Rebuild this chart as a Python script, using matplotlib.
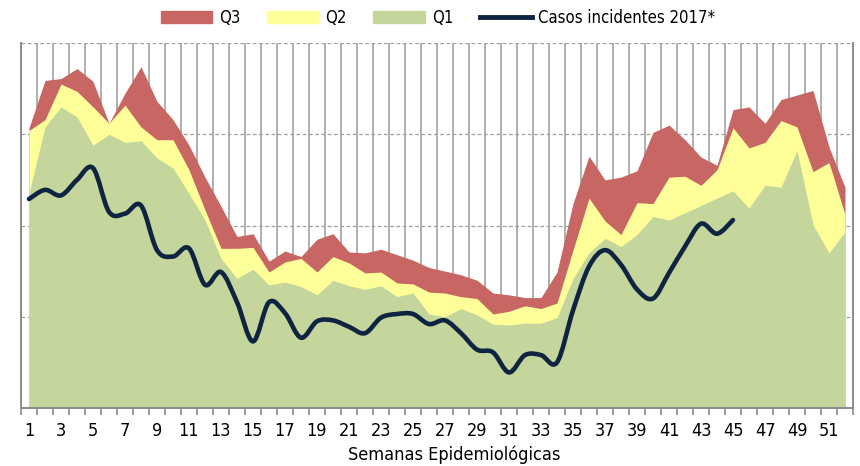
import numpy as np
import matplotlib.pyplot as plt
from matplotlib.path import Path
from matplotlib.patches import PathPatch, Patch
from matplotlib.lines import Line2D

plt.rcParams['font.family'] = ['DejaVu Sans']
plt.rcParams['font.stretch'] = 'condensed'

weeks = np.arange(1, 53)

# umbrales del canal endemico (valores acumulados, escala en cientos)
q1 = [2.35, 3.08, 3.30, 3.19, 2.88, 3.00, 2.91, 2.93, 2.74, 2.63,
      2.35, 2.06, 1.64, 1.42, 1.52, 1.35, 1.38, 1.33, 1.24, 1.40,
      1.34, 1.30, 1.34, 1.22, 1.26, 1.03, 1.00, 1.09, 1.02, 0.92,
      0.91, 0.93, 0.93, 0.99, 1.42, 1.70, 1.86, 1.77, 1.90, 2.10,
      2.06, 2.14, 2.22, 2.30, 2.38, 2.19, 2.44, 2.42, 2.82, 2.01,
      1.70, 1.93]
q2 = [3.04, 3.16, 3.55, 3.47, 3.30, 3.12, 3.32, 3.08, 2.94, 2.94,
      2.61, 2.17, 1.75, 1.75, 1.76, 1.49, 1.60, 1.64, 1.49, 1.66,
      1.59, 1.48, 1.49, 1.37, 1.36, 1.27, 1.26, 1.22, 1.20, 1.03,
      1.06, 1.12, 1.09, 1.15, 1.73, 2.30, 2.05, 1.90, 2.25, 2.24,
      2.53, 2.54, 2.44, 2.61, 3.07, 2.85, 2.91, 3.15, 3.08, 2.59,
      2.69, 2.12]
q3 = [3.07, 3.59, 3.61, 3.72, 3.58, 3.12, 3.45, 3.74, 3.36, 3.16,
      2.88, 2.53, 2.21, 1.88, 1.91, 1.61, 1.72, 1.66, 1.85, 1.91,
      1.71, 1.70, 1.74, 1.68, 1.62, 1.54, 1.50, 1.46, 1.40, 1.26,
      1.24, 1.21, 1.21, 1.49, 2.24, 2.76, 2.50, 2.53, 2.60, 3.02,
      3.10, 2.94, 2.75, 2.66, 3.27, 3.30, 3.12, 3.38, 3.43, 3.48,
      2.86, 2.42]
casos = [2.29, 2.39, 2.33, 2.50, 2.63, 2.15, 2.13, 2.22, 1.73, 1.66,
         1.75, 1.35, 1.49, 1.16, 0.73, 1.16, 1.04, 0.77, 0.95, 0.96,
         0.89, 0.82, 0.99, 1.03, 1.03, 0.92, 0.96, 0.82, 0.64, 0.61,
         0.39, 0.58, 0.58, 0.50, 1.07, 1.55, 1.73, 1.57, 1.30, 1.20,
         1.48, 1.77, 2.02, 1.91, 2.06]

c_q3 = '#c86663'
c_q2 = '#ffff99'
c_q1 = '#c4d69c'
c_line = '#0e2440'


def smooth_path(x, y):
    # curva suavizada tipo Excel (Bezier por los puntos)
    pts = np.column_stack([x, y]).astype(float)
    n = len(pts)
    verts = [pts[0]]
    codes = [Path.MOVETO]
    for i in range(n - 1):
        p0 = pts[i - 1] if i > 0 else pts[i]
        p1, p2 = pts[i], pts[i + 1]
        p3 = pts[i + 2] if i + 2 < n else p2
        verts += [p1 + (p2 - p0) / 6, p2 - (p3 - p1) / 6, p2]
        codes += [Path.CURVE4] * 3
    return Path(verts, codes)


fig = plt.figure(figsize=(8.6, 4.66), dpi=100)
ax = fig.add_axes([21 / 860, 58 / 466, 832 / 860, 365 / 466])

ax.fill_between(weeks, q3, color=c_q3, lw=0)
ax.fill_between(weeks, q2, color=c_q2, lw=0)
ax.fill_between(weeks, q1, color=c_q1, lw=0)

x_c = weeks[:len(casos)]
ax.add_patch(PathPatch(smooth_path(x_c, casos), fill=False, edgecolor=c_line,
                       lw=3.3, capstyle='round', joinstyle='round', zorder=5))

ax.set_xlim(0.5, 52.5)
ax.set_ylim(0, 4)
ax.set_axisbelow(True)

ax.set_xticks(np.arange(0.5, 53, 1))
ax.set_xticklabels([])
ax.set_xticks(np.arange(1, 53, 2), minor=True)
ax.set_xticklabels([str(w) for w in range(1, 53, 2)], minor=True, fontsize=13)
ax.tick_params(axis='x', which='major', length=5, color='#8c8c8c', width=1.2)
ax.tick_params(axis='x', which='minor', length=0, pad=10)
ax.set_yticks([1, 2, 3, 4])
ax.set_yticklabels([])
ax.tick_params(axis='y', length=0)

ax.grid(axis='x', which='major', color='#9a9a9a', lw=1.1, ls='-')
ax.grid(axis='y', color='#a0a0a0', lw=0.9, ls=(0, (3, 2)))

for s in ['left', 'right', 'bottom']:
    ax.spines[s].set_color('#8c8c8c')
    ax.spines[s].set_linewidth(1.4)
ax.spines['top'].set_visible(False)

ax.set_xlabel('Semanas Epidemiológicas', fontsize=13)
ax.xaxis.set_label_coords((454 - 21) / 832, -37 / 365)

handles = [Patch(color=c_q3), Patch(color=c_q2), Patch(color=c_q1),
           Line2D([], [], color=c_line, lw=3.5)]
fig.legend(handles, ['Q3', 'Q2', 'Q1', 'Casos incidentes 2017*'],
           loc='center', bbox_to_anchor=(438 / 860, 1 - 18 / 466), ncol=4,
           frameon=False, fontsize=12, handlelength=3.1, handleheight=0.75,
           handletextpad=0.4, columnspacing=1.6)

fig.savefig('out.png', dpi=100)
